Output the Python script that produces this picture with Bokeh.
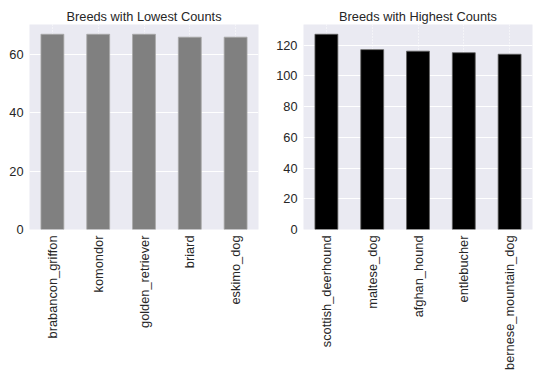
import math
from bokeh.plotting import figure
from bokeh.layouts import row
from bokeh.models import Range1d, FactorRange, ColumnDataSource
from bokeh.embed import file_html
from bokeh.resources import INLINE

low_breeds = ["brabancon_griffon", "komondor", "golden_retriever", "briard", "eskimo_dog"]
low_counts = [67, 67, 67, 66, 66]
high_breeds = ["scottish_deerhound", "maltese_dog", "afghan_hound", "entlebucher", "bernese_mountain_dog"]
high_counts = [127, 117, 116, 115, 114]
low_ticks = [0, 20, 40, 60]
high_ticks = [0, 20, 40, 60, 80, 100, 120]


def make(title, cats, vals, ticks, color, edge, left, right):
    p = figure(x_range=FactorRange(factors=cats, range_padding=0),
               y_range=Range1d(0, max(vals) * 1.05),
               frame_width=229, frame_height=205, output_backend="svg", toolbar_location=None,
               min_border_left=left, min_border_right=right, min_border_top=24,
               min_border_bottom=152, title=title)
    p.background_fill_color = "#EAEAF2"
    p.border_fill_color = "white"
    p.outline_line_color = None
    p.title.align = "center"
    p.title.text_font = "Liberation Sans"
    p.title.text_font_size = "12.8px"
    p.title.text_font_style = "normal"
    p.title.text_color = "#262626"
    p.title.standoff = 2
    src = ColumnDataSource(dict(x=cats, y=vals))
    p.vbar(x="x", top="y", width=0.5, source=src, fill_color=color,
           line_color=edge, line_width=0.8)
    p.yaxis.ticker = ticks
    for ax in (p.xaxis[0], p.yaxis[0]):
        ax.axis_line_color = None
        ax.major_tick_line_color = None
        ax.minor_tick_line_color = None
        ax.major_tick_out = 0
        ax.major_tick_in = 0
        ax.minor_tick_out = 0
        ax.minor_tick_in = 0
        ax.major_label_text_font = "Liberation Sans"
        ax.major_label_text_font_size = "12.8px"
        ax.major_label_text_color = "#262626"
    p.xaxis.major_label_orientation = math.pi / 2
    p.xaxis.major_label_standoff = 6
    p.yaxis.major_label_standoff = 6
    p.ygrid.grid_line_color = "white"
    p.ygrid.grid_line_width = 1
    p.xgrid.grid_line_color = "white"
    p.xgrid.grid_line_dash = "1 2"
    p.xgrid.grid_line_width = 1
    return p


p1 = make("Breeds with Lowest Counts", low_breeds, low_counts, low_ticks,
          "#808080", "#a8a8a8", 29, 7)
p2 = make("Breeds with Highest Counts", high_breeds, high_counts, high_ticks,
          "black", "#606060", 38, 6)

layout = row(p1, p2)
open("out.html", "w").write(file_html(layout, INLINE))
